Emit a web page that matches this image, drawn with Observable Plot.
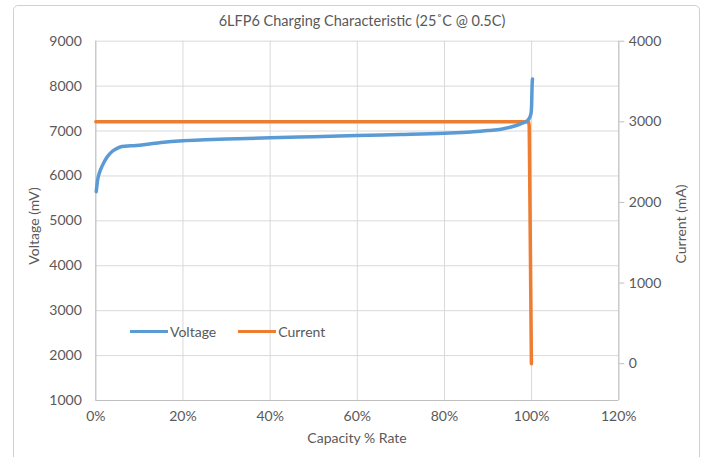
<!DOCTYPE html>
<html>
<head>
<meta charset="utf-8">
<script src="https://cdn.jsdelivr.net/npm/d3@7"></script>
<script src="https://cdn.jsdelivr.net/npm/@observablehq/plot@0.6"></script>
<style>
  html, body { margin: 0; padding: 0; background: #fff; }
  #wrap { position: relative; width: 708px; height: 457px; overflow: hidden; font-family: Lato, "Open Sans", sans-serif; color: #595959; }
  #card { position: absolute; left: 13px; top: 5px; width: 687px; height: 480px; border: 1px solid #d0d0d0; border-radius: 5px; box-sizing: border-box; }
  #chart { position: absolute; left: 0; top: 0; }
  .lbl { position: absolute; font-size: 14px; white-space: nowrap; line-height: 1; }
  #title { left: 362px; top: 21px; transform: translate(-50%, -50%); font-size: 14.5px; }
  #xlab { left: 357px; top: 438px; transform: translate(-50%, -50%); }
  #ylab { left: 34px; top: 226px; transform: translate(-50%, -50%) rotate(-90deg); }
  #y2lab { left: 681px; top: 224px; transform: translate(-50%, -50%) rotate(-90deg); }
  #legend { position: absolute; left: 130px; top: 323px; font-size: 14px; display: flex; align-items: center; }
  #legend .item { display: flex; align-items: center; }
  #legend .sw { display: inline-block; width: 38px; height: 3.5px; margin-right: 2px; }
</style>
</head>
<body>
<div id="wrap">
  <div id="card"></div>
  <div id="chart"></div>
  <div class="lbl" id="title">6LFP6 Charging Characteristic (25˚C @ 0.5C)</div>
  <div class="lbl" id="xlab">Capacity % Rate</div>
  <div class="lbl" id="ylab">Voltage (mV)</div>
  <div class="lbl" id="y2lab">Current (mA)</div>
  <div id="legend"></div>
</div>
<script>
// ---- data ----
const seriesNames = ["Voltage", "Current"];
const seriesColors = ["#5B9BD5", "#ED7D31"];

const voltagePct = [0.1, 0.4, 0.8, 1.5, 2.6, 3.8, 5.0, 6.0, 8, 11, 15, 20, 25, 30, 40, 50, 60, 70, 80, 86, 90, 93, 95.5, 97.5, 99, 99.6, 99.9, 100, 100.1, 100.2];
const voltageMV = [5650, 5900, 6060, 6230, 6420, 6550, 6620, 6655, 6670, 6695, 6745, 6785, 6805, 6820, 6850, 6875, 6900, 6922, 6950, 6978, 7012, 7040, 7095, 7160, 7230, 7310, 7420, 7600, 8000, 8160];

const currentPct = [0, 50, 99.3, 99.45, 99.95];
const currentMA = [3000, 3000, 3000, 2950, 0];

const xTicks = [0, 20, 40, 60, 80, 100, 120];
const yTicks = [1000, 2000, 3000, 4000, 5000, 6000, 7000, 8000, 9000];
const y2Ticks = [0, 1000, 2000, 3000, 4000];

// secondary axis mapping: mA -> mV position
const mA0 = 1820, mAscale = (9000 - 1820) / 4000;
const toV = (ma) => mA0 + ma * mAscale;
const fromV = (v) => (v - mA0) / mAscale;

const voltage = voltagePct.map((p, i) => ({ pct: p, v: voltageMV[i] }));
const current = currentPct.map((p, i) => ({ pct: p, v: toV(currentMA[i]) }));

const chart = Plot.plot({
  width: 708,
  height: 457,
  marginLeft: 95.3,
  marginRight: 89.7,
  marginTop: 40.7,
  marginBottom: 57,
  style: { fontFamily: "Lato, 'Open Sans', sans-serif", fontSize: "14px", color: "#595959", background: "transparent" },
  x: { domain: [0, 120] },
  y: { domain: [1000, 9000] },
  marks: [
    Plot.gridY(yTicks, { stroke: "#d9d9d9", strokeOpacity: 1 }),
    Plot.gridX(xTicks, { stroke: "#d9d9d9", strokeOpacity: 1 }),
    Plot.ruleY([1000], { stroke: "#bfbfbf" }),
    Plot.ruleX([0], { stroke: "#bfbfbf" }),
    Plot.ruleX([120], { stroke: "#bfbfbf" }),
    Plot.axisY(yTicks, { anchor: "left", tickSize: 0, tickPadding: 14, label: null, tickFormat: d => String(d) }),
    Plot.axisY(y2Ticks.map(toV), { anchor: "right", tickSize: 5, tickPadding: 5, label: null, stroke: "#bfbfbf", tickFormat: d => String(Math.round(fromV(d))) }),
    Plot.axisX(xTicks, { anchor: "bottom", tickSize: 0, tickPadding: 11, label: null, tickFormat: d => d + "%" }),
    Plot.line(current, { x: "pct", y: "v", stroke: seriesColors[1], strokeWidth: 3.5, strokeLinecap: "round", strokeLinejoin: "round" }),
    Plot.line(voltage, { x: "pct", y: "v", stroke: seriesColors[0], strokeWidth: 3.5, curve: "monotone-x", strokeLinecap: "round" })
  ]
});
document.getElementById("chart").appendChild(chart);

const legend = document.getElementById("legend");
seriesNames.forEach((name, i) => {
  const item = document.createElement("div");
  item.className = "item";
  if (i > 0) item.style.marginLeft = "22px";
  const sw = document.createElement("span");
  sw.className = "sw";
  sw.style.background = seriesColors[i];
  item.appendChild(sw);
  item.appendChild(document.createTextNode(name));
  legend.appendChild(item);
});
</script>
</body>
</html>
